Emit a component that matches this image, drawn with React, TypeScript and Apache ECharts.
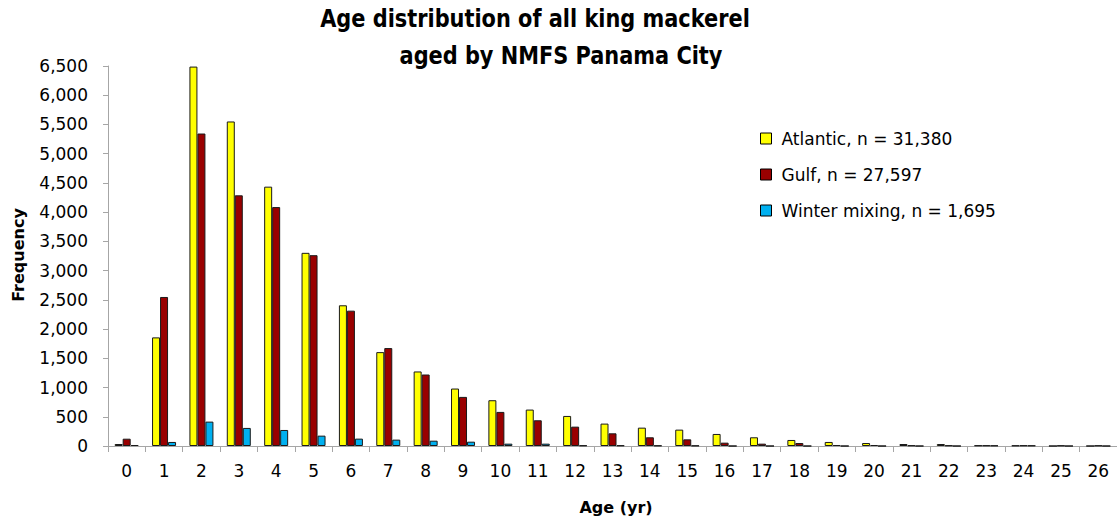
import React, { useEffect, useRef } from "react";
import * as echarts from "echarts";

const ages = ["0","1","2","3","4","5","6","7","8","9","10","11","12","13","14","15","16","17","18","19","20","21","22","23","24","25","26"];
const atlantic = [34,1858,6490,5551,4436,3304,2407,1606,1275,983,783,623,514,383,314,280,206,149,103,69,51,34,34,10,8,0,0];
const gulf = [125,2549,5345,4288,4087,3264,2315,1675,1223,840,583,440,331,217,149,114,57,40,51,17,17,10,10,10,10,8,8];
const winter = [17,69,417,309,274,177,126,109,91,74,40,40,10,10,8,6,0,0,0,0,0,0,0,8,8,0,0];
const seriesNames = ["Atlantic, n = 31,380","Gulf, n = 27,597","Winter mixing, n = 1,695"];
const colors = ["#FFFF00","#990000","#00B0F0"];
const yTicks = { min: 0, max: 6500, interval: 500 };

const FONT = "DejaVu Sans";

export default function App() {
  const ref = useRef<HTMLDivElement>(null);
  useEffect(() => {
    if (!ref.current) return;
    const chart = echarts.init(ref.current, undefined, { renderer: "svg" });
    const data = [atlantic, gulf, winter];
    chart.setOption({
      animation: false,
      backgroundColor: "#ffffff",
      textStyle: { fontFamily: FONT },
      graphic: [
        { type: "text", x: 535, y: 18, scaleX: 0.87, style: { text: "Age distribution of all king mackerel", font: `bold 24px "${FONT}"`, fill: "#000", align: "center", verticalAlign: "middle" } },
        { type: "text", x: 561, y: 55, scaleX: 0.87, style: { text: "aged by NMFS Panama City", font: `bold 24px "${FONT}"`, fill: "#000", align: "center", verticalAlign: "middle" } },
        { type: "text", x: 18, y: 255, rotation: Math.PI / 2, style: { text: "Frequency", font: `bold 16px "${FONT}"`, fill: "#000", align: "center", verticalAlign: "middle" } },
        { type: "text", x: 616, y: 507, style: { text: "Age (yr)", font: `bold 16px "${FONT}"`, fill: "#000", align: "center", verticalAlign: "middle" } },
      ],
      legend: {
        orient: "vertical",
        left: 755,
        top: 125,
        itemWidth: 11,
        itemHeight: 11,
        itemGap: 19,
        icon: "rect",
        itemStyle: { borderColor: "#000", borderWidth: 1 },
        textStyle: { fontFamily: FONT, fontSize: 17, color: "#000", padding: [0, 0, 0, 5] },
        data: seriesNames,
      },
      grid: { left: 108, right: 0, top: 66, bottom: 76, containLabel: false },
      xAxis: {
        type: "category",
        data: ages,
        boundaryGap: true,
        axisLine: { lineStyle: { color: "#A6A6A6", width: 1 } },
        axisTick: { show: true, alignWithLabel: false, length: 6, interval: 0, lineStyle: { color: "#A6A6A6" } },
        axisLabel: { interval: 0, margin: 16, fontFamily: FONT, fontSize: 17, color: "#000" },
        splitLine: { show: false },
      },
      yAxis: {
        type: "value",
        min: yTicks.min,
        max: yTicks.max,
        interval: yTicks.interval,
        axisLine: { show: true, lineStyle: { color: "#A6A6A6", width: 1 } },
        axisTick: { show: true, length: 5, lineStyle: { color: "#A6A6A6" } },
        axisLabel: { margin: 20, fontFamily: FONT, fontSize: 17, color: "#000", formatter: (v: number) => v.toLocaleString("en-US") },
        splitLine: { show: false },
      },
      series: seriesNames.map((name, i) => ({
        name,
        type: "bar",
        data: data[i],
        barWidth: 8,
        barGap: "0%",
        itemStyle: { color: colors[i], borderColor: "#1a1a1a", borderWidth: 1 },
      })),
    });
    return () => chart.dispose();
  }, []);
  return <div ref={ref} style={{ position: "absolute", left: 0, top: 0, width: 1117, height: 522 }} />;
}
